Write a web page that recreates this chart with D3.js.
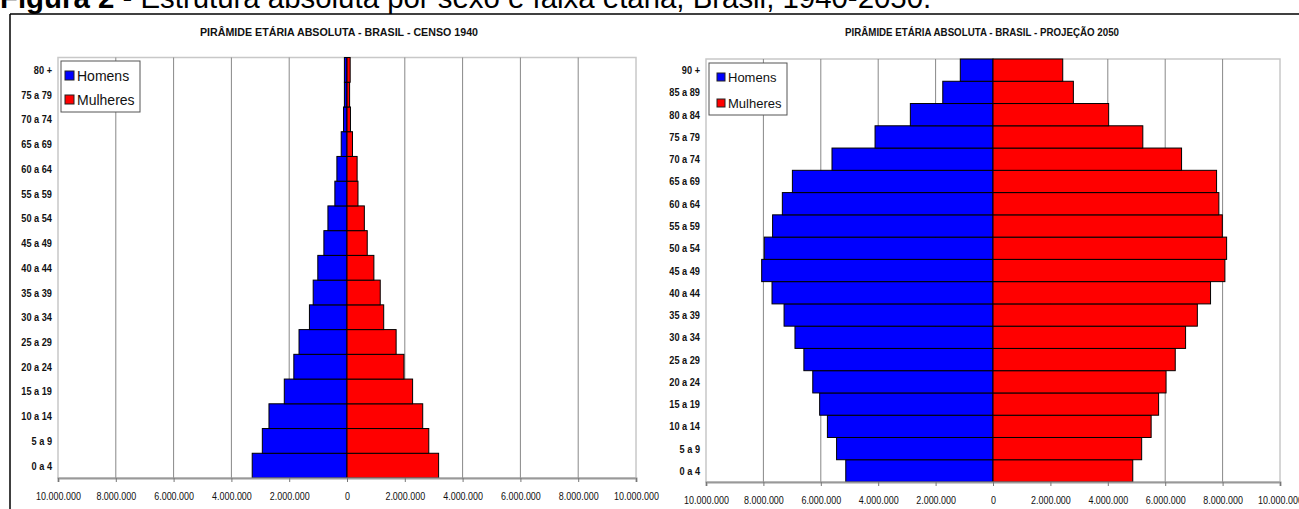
<!DOCTYPE html>
<html>
<head>
<meta charset="utf-8">
<script src="https://cdn.jsdelivr.net/npm/d3@7"></script>
<style>
  body { margin: 0; background: #fff; }
  svg { display: block; }
  text { font-family: "Liberation Sans", Arial, sans-serif; }
</style>
</head>
<body>
<svg id="fig" width="1299" height="509"></svg>
<script>
// faixas etárias, de baixo para cima
var faixas1940 = ["0 a 4", "5 a 9", "10 a 14", "15 a 19", "20 a 24", "25 a 29", "30 a 34", "35 a 39",
    "40 a 44", "45 a 49", "50 a 54", "55 a 59", "60 a 64", "65 a 69", "70 a 74", "75 a 79", "80 +"];
var homens1940 = [3280000, 2930000, 2700000, 2170000, 1840000, 1660000, 1300000, 1170000,
    1010000, 800000, 660000, 420000, 350000, 200000, 120000, 90000, 90000];
var mulheres1940 = [3170000, 2830000, 2620000, 2270000, 1970000, 1700000, 1270000, 1150000,
    930000, 700000, 600000, 380000, 350000, 190000, 120000, 90000, 110000];

var faixas2050 = ["0 a 4", "5 a 9", "10 a 14", "15 a 19", "20 a 24", "25 a 29", "30 a 34", "35 a 39",
    "40 a 44", "45 a 49", "50 a 54", "55 a 59", "60 a 64", "65 a 69", "70 a 74", "75 a 79",
    "80 a 84", "85 a 89", "90 +"];
var homens2050 = [5130000, 5450000, 5770000, 6040000, 6280000, 6590000, 6900000, 7280000,
    7700000, 8060000, 7970000, 7680000, 7340000, 6990000, 5610000, 4110000, 2880000, 1750000, 1140000];
var mulheres2050 = [4870000, 5180000, 5510000, 5770000, 6030000, 6350000, 6710000, 7120000,
    7580000, 8080000, 8140000, 7990000, 7870000, 7790000, 6570000, 5220000, 4030000, 2800000, 2430000];

var xTicks = [-10000000, -8000000, -6000000, -4000000, -2000000, 0,
    2000000, 4000000, 6000000, 8000000, 10000000];

var svg = d3.select("#fig");

// cabeçalho da figura (cortado no topo, como no original)
var head = svg.append("text")
    .attr("x", 0).attr("y", 8)
    .style("font-size", "29.4px");
head.append("tspan").style("font-weight", "bold").text("Figura 2");
head.append("tspan").text(" - Estrutura absoluta por sexo e faixa etária, Brasil, 1940-2050.");

svg.append("line").attr("x1", 10).attr("x2", 1299).attr("y1", 14).attr("y2", 14)
    .attr("stroke", "#000").attr("stroke-width", 1.5);
svg.append("line").attr("x1", 10).attr("x2", 10).attr("y1", 14).attr("y2", 509)
    .attr("stroke", "#000").attr("stroke-width", 1.5);

var fmt = function(d) { return d3.format(",")(Math.abs(d)).replace(/,/g, "."); };
var NARROW = 0.8;

function piramide(cfg) {
    var g = svg.append("g");
    var x = d3.scaleLinear().domain([-10000000, 10000000]).range([cfg.left, cfg.right]);
    var y = d3.scaleBand().domain(cfg.faixas).range([cfg.bottom, cfg.top]).padding(0);

    g.append("text")
        .attr("x", cfg.titleX).attr("y", 36)
        .attr("text-anchor", "middle")
        .attr("textLength", cfg.titleW).attr("lengthAdjust", "spacingAndGlyphs")
        .style("font-weight", "bold").style("font-size", "11.5px")
        .style("fill", "#111")
        .text(cfg.titulo);

    // moldura da área de plotagem
    g.append("rect")
        .attr("x", cfg.left).attr("y", cfg.top)
        .attr("width", cfg.right - cfg.left).attr("height", cfg.bottom - cfg.top)
        .attr("fill", "#fff").attr("stroke", "#c8c8c8").attr("stroke-width", 1.5);

    g.selectAll(".grid").data(xTicks.slice(1, -1)).enter().append("line")
        .attr("x1", x).attr("x2", x)
        .attr("y1", cfg.top).attr("y2", cfg.bottom)
        .attr("stroke", "#888").attr("stroke-width", 1);

    g.selectAll(".hom").data(cfg.faixas).enter().append("rect")
        .attr("x", function(d, i) { return x(-cfg.homens[i]); })
        .attr("y", function(d) { return y(d); })
        .attr("width", function(d, i) { return x(0) - x(-cfg.homens[i]); })
        .attr("height", y.bandwidth())
        .attr("fill", "#0000ff").attr("stroke", "#000").attr("stroke-width", 1);

    g.selectAll(".mul").data(cfg.faixas).enter().append("rect")
        .attr("x", x(0))
        .attr("y", function(d) { return y(d); })
        .attr("width", function(d, i) { return x(cfg.mulheres[i]) - x(0); })
        .attr("height", y.bandwidth())
        .attr("fill", "#ff0000").attr("stroke", "#000").attr("stroke-width", 1);

    g.selectAll(".ylab").data(cfg.faixas).enter().append("text")
        .attr("transform", function(d) {
            return "translate(" + (cfg.left - 6) + "," + (y(d) + y.bandwidth() / 2) + ") scale(" + NARROW + ",1)";
        })
        .attr("dy", "0.35em")
        .attr("text-anchor", "end")
        .style("font-weight", "bold").style("font-size", "11.5px").style("fill", "#111")
        .text(function(d) { return d; });

    var ax = g.append("g")
        .attr("transform", "translate(0," + cfg.bottom + ")")
        .call(d3.axisBottom(x).tickValues(xTicks).tickSize(4).tickPadding(10).tickFormat(fmt));
    ax.select(".domain").attr("stroke", "#999").attr("stroke-width", 2);
    ax.selectAll(".tick line").attr("stroke", "#777");
    ax.selectAll("text")
        .attr("transform", "scale(" + NARROW + ",1)")
        .style("font-family", "'Liberation Sans', Arial, sans-serif")
        .style("font-size", "11.2px").style("fill", "#111");

    // legenda
    var lg = g.append("g").attr("transform", "translate(" + cfg.legX + "," + cfg.legY + ")");
    lg.append("rect").attr("width", cfg.legW).attr("height", cfg.legH)
        .attr("fill", "#fff").attr("stroke", "#555").attr("stroke-width", 1);
    var itens = [["Homens", "#0000ff"], ["Mulheres", "#ff0000"]];
    itens.forEach(function(it, i) {
        var yy = cfg.legRow0 + i * cfg.legStep;
        lg.append("rect").attr("x", cfg.sqX).attr("y", yy - cfg.sq - 1)
            .attr("width", cfg.sq).attr("height", cfg.sq)
            .attr("fill", it[1]).attr("stroke", "#222").attr("stroke-width", 1);
        lg.append("text").attr("x", cfg.sqX + cfg.sq + 3).attr("y", yy)
            .style("font-size", cfg.legFont + "px").style("fill", "#111")
            .text(it[0]);
    });
}

piramide({
    titulo: "PIRÂMIDE ETÁRIA ABSOLUTA - BRASIL - CENSO 1940",
    faixas: faixas1940, homens: homens1940, mulheres: mulheres1940,
    left: 58, right: 636, top: 57.5, bottom: 478,
    titleX: 339, titleW: 278,
    legX: 61, legY: 61, legW: 79, legH: 51, legRow0: 20, legStep: 24,
    sqX: 4, sq: 9, legFont: 14
});

piramide({
    titulo: "PIRÂMIDE ETÁRIA ABSOLUTA - BRASIL - PROJEÇÃO 2050",
    faixas: faixas2050, homens: homens2050, mulheres: mulheres2050,
    left: 706, right: 1280, top: 59, bottom: 482,
    titleX: 982, titleW: 274,
    legX: 709, legY: 63, legW: 78, legH: 52, legRow0: 19, legStep: 26,
    sqX: 8, sq: 8, legFont: 13
});
</script>
</body>
</html>
